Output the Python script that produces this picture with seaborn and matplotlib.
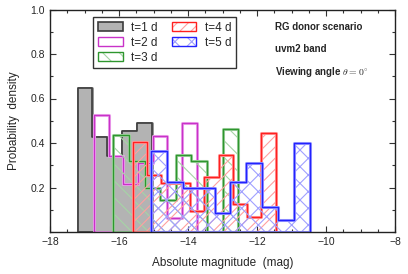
import numpy as np
import matplotlib
matplotlib.use("Agg")
import matplotlib.pyplot as plt
import matplotlib.patches as mpatches
import matplotlib.patheffects as pe
from matplotlib.ticker import MultipleLocator
import seaborn as sns

# histogram data (probability density per bin)
labels = ["t=1 d", "t=2 d", "t=3 d", "t=4 d", "t=5 d"]

edges_1d = [-17.20, -16.77, -16.34, -15.91, -15.48, -15.05]
dens_1d = [0.645, 0.425, 0.34, 0.455, 0.49]

edges_2d = [-16.72, -16.29, -15.87, -15.45, -15.02, -14.60, -14.17, -13.75]
dens_2d = [0.525, 0.34, 0.215, 0.31, 0.43, 0.062, 0.49]

edges_3d = [-16.17, -15.71, -15.26, -14.81, -14.35, -13.90, -13.45, -12.99, -12.54]
dens_3d = [0.435, 0.32, 0.20, 0.143, 0.345, 0.32, 0.0, 0.462]

edges_4d = [-15.60, -15.19, -14.77, -14.36, -13.94, -13.53, -13.11, -12.70,
            -12.28, -11.87, -11.45]
dens_4d = [0.405, 0.255, 0.218, 0.218, 0.094, 0.248, 0.345, 0.125, 0.066, 0.444]

edges_5d = [-15.07, -14.61, -14.15, -13.69, -13.23, -12.77, -12.31, -11.85,
            -11.39, -10.93, -10.46]
dens_5d = [0.365, 0.226, 0.196, 0.196, 0.084, 0.226, 0.311, 0.111, 0.054, 0.398]

sns.set_style("ticks")
plt.rcParams["font.family"] = ["Liberation Sans", "DejaVu Sans"]
plt.rcParams["mathtext.fontset"] = "cm"
plt.rcParams["hatch.linewidth"] = 0.8

GRAY_FILL = "#b3b3b3"
GRAY_EDGE = "#3c3c3c"
MAGENTA, MAGENTA_L = "#c832c8", "#eeaaee"
GREEN, GREEN_L = "#2e962e", "#a6d4a6"
RED, RED_L = "#ff2020", "#ffa0a0"
BLUE, BLUE_L = "#2222ff", "#a0a0ff"


def draw_hist(ax, edges, dens, color, light, hatch=None, fill_color=None):
    centers = [(a + b) / 2 for a, b in zip(edges[:-1], edges[1:])]
    bins = list(edges)
    if fill_color is not None:
        sns.histplot(x=centers, weights=dens, bins=bins, element="step",
                     fill=True, color=fill_color, facecolor=fill_color,
                     edgecolor=color, linewidth=1.2, alpha=1,
                     path_effects=[pe.Stroke(linewidth=2.0, foreground="#8a8a8a"),
                                   pe.Normal()],
                     ax=ax)
        return
    if hatch is not None:
        sns.histplot(x=centers, weights=dens, bins=bins, element="step",
                     fill=True, color=light, facecolor="none", edgecolor=light,
                     linewidth=0, hatch=hatch, ax=ax)
    # closed step outline (reaches the baseline at both ends)
    sns.histplot(x=centers, weights=dens, bins=bins, element="step",
                 fill=True, color=color, facecolor="none", edgecolor=color,
                 linewidth=1.0,
                 path_effects=[pe.Stroke(linewidth=2.2, foreground=light),
                               pe.Normal()],
                 ax=ax)


fig = plt.figure(figsize=(4.08, 2.74), dpi=100)
ax = fig.add_axes([50 / 408, 1 - 232 / 274, 345 / 408, 222.5 / 274])

draw_hist(ax, edges_1d, dens_1d, GRAY_EDGE, None, fill_color=GRAY_FILL)
draw_hist(ax, edges_2d, dens_2d, MAGENTA, MAGENTA_L)
draw_hist(ax, edges_3d, dens_3d, GREEN, GREEN_L, hatch="\\\\")
draw_hist(ax, edges_4d, dens_4d, RED, RED_L, hatch="///")
draw_hist(ax, edges_5d, dens_5d, BLUE, BLUE_L, hatch="xx")

ax.set_xlim(-18, -8)
ax.set_ylim(0, 1.0)
ax.set_xticks([-18, -16, -14, -12, -10, -8])
ax.set_yticks([0.2, 0.4, 0.6, 0.8, 1.0])
ax.xaxis.set_minor_locator(MultipleLocator(0.5))
ax.yaxis.set_minor_locator(MultipleLocator(0.1))
ax.tick_params(which="both", direction="in", top=True, right=True,
               labelsize=7.5, color="#333333", width=0.8)
ax.tick_params(which="major", length=4)
ax.tick_params(which="minor", length=2)
for sp in ax.spines.values():
    sp.set_visible(True)
    sp.set_linewidth(1.0)
    sp.set_color("#222222")
    sp.set_zorder(5)

ax.set_xlabel("Absolute magnitude  (mag)", fontsize=8.5, labelpad=7)
ax.set_ylabel("Probability  density", fontsize=8.5, labelpad=8)

# legend
handles = [
    mpatches.Patch(facecolor=GRAY_FILL, edgecolor=GRAY_EDGE, linewidth=1.2),
    mpatches.Patch(facecolor="none", edgecolor=MAGENTA, linewidth=1.0),
    (mpatches.Patch(facecolor="none", edgecolor=GREEN_L, hatch="\\\\", linewidth=0),
     mpatches.Patch(facecolor="none", edgecolor=GREEN, linewidth=1.0)),
    (mpatches.Patch(facecolor="none", edgecolor=RED_L, hatch="///", linewidth=0),
     mpatches.Patch(facecolor="none", edgecolor=RED, linewidth=1.0)),
    (mpatches.Patch(facecolor="none", edgecolor=BLUE_L, hatch="xx", linewidth=0),
     mpatches.Patch(facecolor="none", edgecolor=BLUE, linewidth=1.0)),
]
leg = ax.legend(handles, labels, ncol=2, loc="upper left",
                bbox_to_anchor=(0.125, 0.966), fontsize=8.5, fancybox=False,
                framealpha=1, edgecolor="#333333", handlelength=2.1,
                handleheight=0.8, handletextpad=0.7, columnspacing=1.2,
                labelspacing=0.25, borderpad=0.4, borderaxespad=0)
leg.get_frame().set_linewidth(1.0)

ax.text(0.652, 0.921, "RG donor scenario", transform=ax.transAxes,
        fontsize=7, fontweight="bold", va="center", ha="left")
ax.text(0.652, 0.822, "uvm2 band", transform=ax.transAxes,
        fontsize=7, fontweight="bold", va="center", ha="left")
ax.text(0.652, 0.719, r"Viewing angle $\theta = 0^{\circ}$", transform=ax.transAxes,
        fontsize=7, fontweight="bold", va="center", ha="left")

fig.savefig("out.png", dpi=100)
